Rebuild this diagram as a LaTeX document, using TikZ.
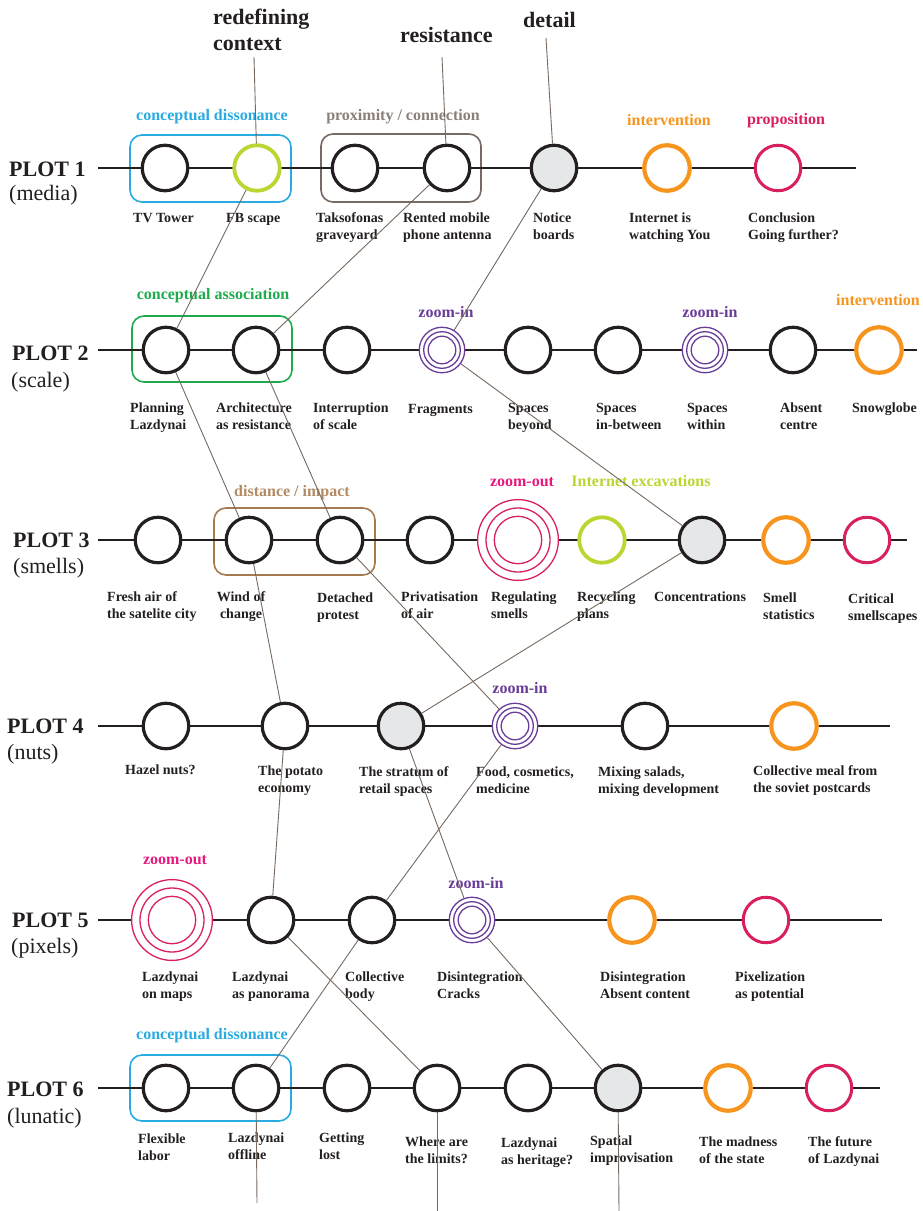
\documentclass[tikz,border=0pt]{standalone}
\usepackage{fontspec}
\setmainfont{Liberation Serif}
\usepackage{tikz}
\usepackage{xcolor}

\definecolor{inkblack}{HTML}{231F20}
\definecolor{dissocyan}{HTML}{29AAE1}
\definecolor{proxgrey}{HTML}{766A62}
\definecolor{proxtext}{HTML}{8A7F78}
\definecolor{assocgreen}{HTML}{1EAB4E}
\definecolor{impactbrown}{HTML}{A57A50}
\definecolor{impacttext}{HTML}{B38A63}
\definecolor{zoompurple}{HTML}{693C98}
\definecolor{intorange}{HTML}{F7941D}
\definecolor{propred}{HTML}{DA1F5E}
\definecolor{zoompink}{HTML}{E5197E}
\definecolor{excavlime}{HTML}{BBD531}
\definecolor{detailgrey}{HTML}{E6E7E8}
\definecolor{linkbrown}{HTML}{76695F}

\begin{document}
\begin{tikzpicture}[x=1pt, y=-1pt,
    stopnode/.style={circle, draw=inkblack, line width=3.2pt, fill=white, minimum size=45.5pt, inner sep=0pt},
    greystop/.style={stopnode, fill=detailgrey},
    orangestop/.style={stopnode, draw=intorange, line width=4.2pt},
    redstop/.style={stopnode, draw=propred, line width=3pt},
    limestop/.style={stopnode, draw=excavlime, line width=3.8pt},
    zoominnode/.style={stopnode, draw=zoompurple, line width=1.3pt},
    zoomring/.style={draw=zoompurple, line width=1.3pt},
    zoomoutnode/.style={stopnode, draw=propred, line width=1.3pt, minimum size=80.8pt},
    zoomoutring/.style={draw=propred, line width=1.3pt},
    plotline/.style={draw=inkblack, line width=2pt},
    groupbox/.style={rounded corners=12pt, line width=1.6pt},
    link/.style={draw=linkbrown, line width=0.9pt},
    nlabel/.style={font=\fontsize{14}{17}\selectfont\bfseries, text=inkblack, align=left, anchor=base west, inner sep=0pt},
    grouptext/.style={font=\fontsize{16}{19}\selectfont\bfseries, anchor=base, inner sep=0pt},
    toptext/.style={font=\fontsize{22}{26}\selectfont\bfseries, text=inkblack, align=left, anchor=base west, inner sep=0pt},
    plottitle/.style={font=\fontsize{22}{26}\selectfont\bfseries, text=inkblack, anchor=base west, inner sep=0pt},
    plotsub/.style={font=\fontsize{22}{26}\selectfont, text=inkblack, anchor=base west, inner sep=0pt}]
    \useasboundingbox (0,0) rectangle (922,1211);

    % group boxes
    \draw[groupbox, draw=dissocyan] (130,135) rectangle (291,202);
    \draw[groupbox, draw=proxgrey] (321,134) rectangle (481,202);
    \draw[groupbox, draw=assocgreen] (132,316) rectangle (292,382);
    \draw[groupbox, draw=impactbrown] (214,508) rectangle (375,575);
    \draw[groupbox, draw=dissocyan] (130,1055) rectangle (291,1121);

    % plot lines
    \draw[plotline] (98,168) -- (856,168);
    \draw[plotline] (98,350) -- (917,350);
    \draw[plotline] (98,540) -- (907,540);
    \draw[plotline] (98,726) -- (890,726);
    \draw[plotline] (98,920) -- (882,920);
    \draw[plotline] (98,1088) -- (880,1088);

    % plot titles
    \node[plottitle] (plot1) at (9,176) {PLOT 1};
    \node[plotsub] (plot1sub) at (9,200) {(media)};
    \node[plottitle] (plot2) at (12,360) {PLOT 2};
    \node[plotsub] (plot2sub) at (11,387) {(scale)};
    \node[plottitle] (plot3) at (13,547) {PLOT 3};
    \node[plotsub] (plot3sub) at (13,573) {(smells)};
    \node[plottitle] (plot4) at (7,733) {PLOT 4};
    \node[plotsub] (plot4sub) at (7,759) {(nuts)};
    \node[plottitle] (plot5) at (12,927) {PLOT 5};
    \node[plotsub] (plot5sub) at (11,953) {(pixels)};
    \node[plottitle] (plot6) at (7,1096) {PLOT 6};
    \node[plotsub] (plot6sub) at (7,1123) {(lunatic)};

    % plot 1 (media)
    \node[stopnode] (tvtower) at (165,168) {};
    \node[limestop] (fbscape) at (257,168) {};
    \node[stopnode] (taksofonas) at (355,168) {};
    \node[stopnode] (rented) at (447,168) {};
    \node[greystop] (notice) at (554,168) {};
    \node[orangestop] (internet) at (667,168) {};
    \node[redstop] (conclusion) at (778,168) {};

    % plot 2 (scale)
    \node[stopnode] (planning) at (166,350) {};
    \node[stopnode] (architecture) at (256,350) {};
    \node[stopnode] (interruption) at (347,350) {};
    \node[zoominnode] (fragments) at (442,350) {};
    \draw[zoomring] (fragments.center) circle (18.3pt) (fragments.center) circle (13.8pt);
    \node[stopnode] (beyond) at (528,350) {};
    \node[stopnode] (inbetween) at (618,350) {};
    \node[zoominnode] (within) at (705,350) {};
    \draw[zoomring] (within.center) circle (18.3pt) (within.center) circle (13.8pt);
    \node[stopnode] (absent) at (793,350) {};
    \node[orangestop] (snowglobe) at (879,350) {};

    % plot 3 (smells)
    \node[stopnode] (freshair) at (158,540) {};
    \node[stopnode] (wind) at (249,540) {};
    \node[stopnode] (detached) at (340,540) {};
    \node[stopnode] (privatisation) at (430,540) {};
    \node[zoomoutnode] (regulating) at (518,540) {};
    \draw[zoomoutring] (regulating.center) circle (32pt) (regulating.center) circle (23.7pt);
    \node[limestop] (recycling) at (602,540) {};
    \node[greystop] (concentrations) at (702,540) {};
    \node[orangestop] (smellstats) at (786,540) {};
    \node[redstop] (critical) at (867,540) {};

    % plot 4 (nuts)
    \node[stopnode] (hazel) at (166,726) {};
    \node[stopnode] (potato) at (285,726) {};
    \node[greystop] (stratum) at (401,726) {};
    \node[zoominnode] (food) at (515,726) {};
    \draw[zoomring] (food.center) circle (18.3pt) (food.center) circle (13.8pt);
    \node[stopnode] (mixing) at (645,726) {};
    \node[orangestop] (meal) at (794,726) {};

    % plot 5 (pixels)
    \node[zoomoutnode] (maps) at (172,920) {};
    \draw[zoomoutring] (maps.center) circle (32pt) (maps.center) circle (23.7pt);
    \node[stopnode] (panorama) at (271,920) {};
    \node[stopnode] (collective) at (372,920) {};
    \node[zoominnode] (cracks) at (472,920) {};
    \draw[zoomring] (cracks.center) circle (18.3pt) (cracks.center) circle (13.8pt);
    \node[orangestop] (absentcontent) at (632,920) {};
    \node[redstop] (pixelization) at (766,920) {};

    % plot 6 (lunatic)
    \node[stopnode] (flexible) at (166,1088) {};
    \node[stopnode] (offline) at (256,1088) {};
    \node[stopnode] (lost) at (347,1088) {};
    \node[stopnode] (limits) at (437,1088) {};
    \node[stopnode] (heritage) at (528,1088) {};
    \node[greystop] (spatial) at (618,1088) {};
    \node[orangestop] (madness) at (728,1088) {};
    \node[redstop] (future) at (829,1088) {};

    % group and type labels
    \node[grouptext, text=dissocyan] (dissotext1) at (212,120) {conceptual dissonance};
    \node[grouptext, text=proxtext] (proxtext) at (403,120) {proximity / connection};
    \node[grouptext, text=intorange] (inttext1) at (669,125) {intervention};
    \node[grouptext, text=propred] (proptext) at (786,124) {proposition};
    \node[grouptext, text=assocgreen] (assoctext) at (213,299) {conceptual association};
    \node[grouptext, text=zoompurple] (zoomtext1) at (446,317) {zoom-in};
    \node[grouptext, text=zoompurple] (zoomtext2) at (710,317) {zoom-in};
    \node[grouptext, text=intorange] (inttext2) at (878,305) {intervention};
    \node[grouptext, text=impacttext] (impacttext) at (292,496) {distance / impact};
    \node[grouptext, text=zoompink] (zoomtext3) at (522,486) {zoom-out};
    \node[grouptext, text=excavlime] (excavtext) at (641,486) {Internet excavations};
    \node[grouptext, text=zoompurple] (zoomtext4) at (520,693) {zoom-in};
    \node[grouptext, text=zoompink] (zoomtext5) at (175,864) {zoom-out};
    \node[grouptext, text=zoompurple] (zoomtext6) at (476,888) {zoom-in};
    \node[grouptext, text=dissocyan] (dissotext2) at (212,1039) {conceptual dissonance};

    % stop labels (base = last line)
    \node[nlabel] (tvtowertext) at (133,222) {TV Tower};
    \node[nlabel] (fbscapetext) at (226,222) {FB scape};
    \node[nlabel] (taksofonastext) at (316,239) {Taksofonas\\graveyard};
    \node[nlabel] (rentedtext) at (403,239) {Rented mobile\\phone antenna};
    \node[nlabel] (noticetext) at (533,239) {Notice\\boards};
    \node[nlabel] (internettext) at (629,239) {Internet is\\watching You};
    \node[nlabel] (conclusiontext) at (748,239) {Conclusion\\Going further?};

    \node[nlabel] (planningtext) at (130,429) {Planning\\Lazdynai};
    \node[nlabel] (architecturetext) at (216,429) {Architecture\\as resistance};
    \node[nlabel] (interruptiontext) at (313,429) {Interruption\\of scale};
    \node[nlabel] (fragmentstext) at (408,413) {Fragments};
    \node[nlabel] (beyondtext) at (508,429) {Spaces\\beyond};
    \node[nlabel] (inbetweentext) at (596,429) {Spaces\\in-between};
    \node[nlabel] (withintext) at (687,429) {Spaces\\within};
    \node[nlabel] (absenttext) at (780,429) {Absent\\centre};
    \node[nlabel] (snowglobetext) at (852,412) {Snowglobe};

    \node[nlabel] (freshairtext) at (107,618) {Fresh air of\\the satelite city};
    \node[nlabel, align=center, anchor=base] (windtext) at (241,618) {Wind of\\change};
    \node[nlabel] (detachedtext) at (317,619) {Detached\\protest};
    \node[nlabel] (privatisationtext) at (401,618) {Privatisation\\of air};
    \node[nlabel] (regulatingtext) at (491,618) {Regulating\\smells};
    \node[nlabel] (recyclingtext) at (577,618) {Recycling\\plans};
    \node[nlabel] (concentrationstext) at (654,601) {Concentrations};
    \node[nlabel] (smellstatstext) at (763,619) {Smell\\statistics};
    \node[nlabel] (criticaltext) at (848,620) {Critical\\smellscapes};

    \node[nlabel] (hazeltext) at (125,774) {Hazel nuts?};
    \node[nlabel] (potatotext) at (258,792) {The potato\\economy};
    \node[nlabel] (stratumtext) at (359,793) {The stratum of\\retail spaces};
    \node[nlabel] (foodtext) at (476,793) {Food, cosmetics,\\medicine};
    \node[nlabel] (mixingtext) at (598,793) {Mixing salads,\\mixing development};
    \node[nlabel] (mealtext) at (753,792) {Collective meal from\\the soviet postcards};

    \node[nlabel] (mapstext) at (142,998) {Lazdynai\\on maps};
    \node[nlabel] (panoramatext) at (232,998) {Lazdynai\\as panorama};
    \node[nlabel] (collectivetext) at (345,998) {Collective\\body};
    \node[nlabel] (crackstext) at (437,998) {Disintegration\\Cracks};
    \node[nlabel] (absentcontenttext) at (600,998) {Disintegration\\Absent content};
    \node[nlabel] (pixelizationtext) at (735,998) {Pixelization\\as potential};

    \node[nlabel] (flexibletext) at (138,1160) {Flexible\\labor};
    \node[nlabel] (offlinetext) at (228,1159) {Lazdynai\\offline};
    \node[nlabel] (losttext) at (319,1159) {Getting\\lost};
    \node[nlabel] (limitstext) at (405,1163) {Where are\\the limits?};
    \node[nlabel] (heritagetext) at (501,1164) {Lazdynai\\as heritage?};
    \node[nlabel] (spatialtext) at (590,1162) {Spatial\\improvisation};
    \node[nlabel] (madnesstext) at (699,1163) {The madness\\of the state};
    \node[nlabel] (futuretext) at (808,1163) {The future\\of Lazdynai};

    % themes on top
    \node[toptext] (redefining) at (213,50) {redefining\\context};
    \node[toptext] (resistance) at (400,42) {resistance};
    \node[toptext] (detail) at (523,27) {detail};
    \coordinate (redefiningend) at (254,57);
    \coordinate (resistanceend) at (442,57);
    \coordinate (detailend) at (546,38);
    \draw[link] (redefiningend) -- (fbscape);
    \draw[link] (resistanceend) -- (rented);
    \draw[link] (detailend) -- (notice);

    % threads between plots
    \draw[link] (fbscape) -- (planning);
    \draw[link] (rented) -- (architecture);
    \draw[link] (notice) -- (fragments);
    \draw[link] (planning) -- (wind);
    \draw[link] (architecture) -- (detached);
    \draw[link] (fragments) -- (concentrations);
    \draw[link] (wind) -- (potato);
    \draw[link] (detached) -- (food);
    \draw[link] (concentrations) -- (stratum);
    \draw[link] (potato) -- (panorama);
    \draw[link] (stratum) -- (cracks);
    \draw[link] (food) -- (collective);
    \draw[link] (panorama) -- (limits);
    \draw[link] (collective) -- (offline);
    \draw[link] (cracks) -- (spatial);

    % loose ends at the bottom
    \coordinate (offlineend) at (257,1203);
    \coordinate (limitsend) at (437,1211);
    \coordinate (spatialend) at (619,1211);
    \draw[link] (offline) -- (offlineend);
    \draw[link] (limits) -- (limitsend);
    \draw[link] (spatial) -- (spatialend);
\end{tikzpicture}
\end{document}
